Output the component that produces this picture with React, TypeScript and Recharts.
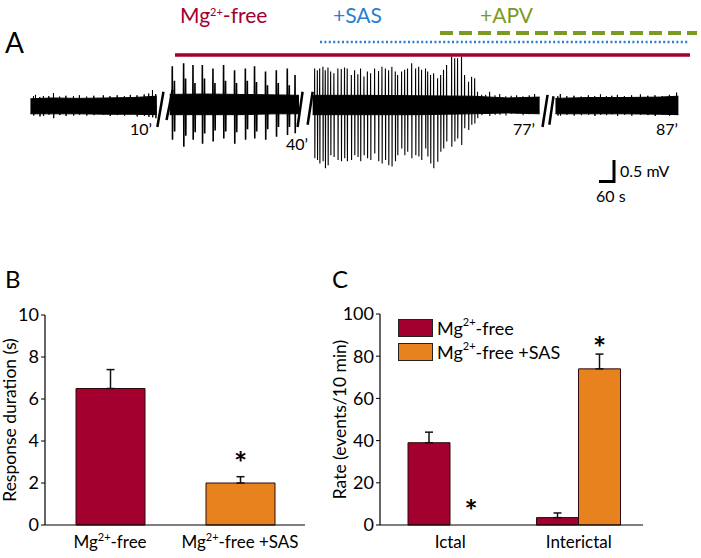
import React from 'react';
import {
  BarChart,
  Bar,
  Cell,
  XAxis,
  YAxis,
  ErrorBar,
  LabelList,
  Legend,
  ComposedChart,
  Line,
  Area,
  ReferenceLine,
} from 'recharts';

const FONT = 'Lato, "Open Sans", sans-serif';
const RED = '#a3002f';
const ORANGE = '#e8821e';
const BLUE = '#2a80cf';
const GREEN = '#7b9a22';
const EDGE = '#2a0a0a';

// ---------- panel A: field potential trace (time in min, voltage in mV) ----------
// spike events: [time, peak, trough]
const seg1Spikes = [
  [2.95, 0.2, -0.24], [3.06, 0.23, -0.2], [3.3, 0.18, -0.26], [3.5, 0.2, -0.25], [3.8, 0.2, -0.22],
  [4.06, 0.27, -0.3], [4.4, 0.19, -0.23], [4.75, 0.21, -0.25], [5.17, 0.2, -0.24], [5.5, 0.22, -0.22],
  [5.9, 0.19, -0.24], [6.3, 0.21, -0.23], [6.83, 0.22, -0.22], [7.2, 0.2, -0.25], [7.6, 0.22, -0.23],
  [8.0, 0.2, -0.24], [8.33, 0.23, -0.2], [8.7, 0.22, -0.26], [9.1, 0.24, -0.25], [9.35, 0.26, -0.27],
  [9.56, 0.34, -0.28], [9.74, 0.25, -0.3],
];
const seg2Spikes = [
  [32.76, 0.88, -0.79], [32.88, 0.55, -0.6],
  [33.39, 0.95, -0.95], [33.5, 0.6, -0.7],
  [33.91, 0.91, -0.79], [34.02, 0.5, -0.62],
  [34.43, 0.91, -0.88], [34.55, 0.6, -0.65],
  [35.02, 0.83, -0.83], [35.13, 0.5, -0.58],
  [35.61, 0.91, -0.76], [35.72, 0.55, -0.6],
  [36.22, 0.79, -0.88], [36.33, 0.5, -0.62],
  [36.82, 0.83, -0.79], [36.93, 0.55, -0.55],
  [37.33, 0.88, -0.76], [37.44, 0.52, -0.6],
  [37.94, 0.76, -0.79], [38.05, 0.45, -0.55],
  [38.54, 0.79, -0.72], [38.65, 0.5, -0.5],
  [39.15, 0.83, -0.68], [39.26, 0.45, -0.5],
  [39.58, 0.68, -0.64],
];
const seg3Spikes = [
  [64.28, 0.83, -1.21], [64.43, 0.79, -1.25], [64.56, 0.83, -1.33], [64.74, 0.87, -1.28],
  [64.87, 0.79, -1.44], [65.02, 0.85, -1.37], [65.17, 0.76, -1.14], [65.35, 0.72, -1.18],
  [65.57, 0.83, -1.25], [65.76, 0.82, -1.28], [65.94, 0.85, -1.21], [66.09, 0.83, -1.28],
  [66.32, 0.68, -1.25], [66.5, 0.79, -1.14], [66.68, 0.7, -1.18], [66.83, 0.83, -1.28],
  [67.02, 0.65, -1.14], [67.21, 0.76, -1.21], [67.39, 0.72, -1.25], [67.61, 0.83, -1.1],
  [67.83, 0.77, -1.28], [68.02, 0.87, -1.33], [68.21, 0.83, -1.25], [68.39, 0.79, -1.37],
  [68.57, 0.87, -1.4], [68.76, 0.76, -1.28],
  [68.89, 0.68, -1.14], [69.11, 0.76, -0.99], [69.28, 0.8, -1.14], [69.44, 0.83, -1.06],
  [69.67, 0.95, -1.21], [69.89, 0.83, -1.14], [70.06, 0.87, -1.17], [70.22, 0.8, -1.25],
  [70.44, 0.83, -0.99], [70.56, 0.76, -1.17], [70.72, 0.68, -1.33], [70.89, 0.72, -1.44],
  [71.11, 0.61, -1.29], [71.28, 0.68, -1.06], [71.44, 0.8, -0.99], [71.61, 0.91, -0.83],
  [71.89, 1.1, -0.95], [72.06, 1.06, -0.83], [72.22, 1.06, -0.76], [72.44, 1.1, -0.91],
  [72.61, 0.68, -0.53], [72.83, 0.53, -0.57], [73.0, 0.64, -0.45], [73.17, 0.61, -0.42],
  [73.33, 0.3, -0.3], [73.56, 0.23, -0.23], [73.78, 0.23, -0.19],
  [74.0, 0.3, -0.25], [74.3, 0.22, -0.22], [74.56, 0.25, -0.22], [74.9, 0.2, -0.24], [75.2, 0.21, -0.2],
  [75.5, 0.22, -0.2], [75.85, 0.2, -0.23], [76.2, 0.22, -0.21], [76.5, 0.25, -0.2],
];
const seg4Spikes = [
  [80.3, 0.2, -0.24], [80.44, 0.25, -0.24], [80.8, 0.2, -0.22], [81.2, 0.21, -0.24], [81.6, 0.19, -0.23],
  [82.0, 0.22, -0.22], [82.35, 0.2, -0.25], [82.67, 0.24, -0.22], [83.0, 0.2, -0.23], [83.3, 0.21, -0.21],
  [83.61, 0.23, -0.25], [84.0, 0.2, -0.22], [84.4, 0.22, -0.24], [84.89, 0.24, -0.22], [85.3, 0.21, -0.23],
  [85.7, 0.22, -0.25], [86.1, 0.2, -0.22], [86.5, 0.23, -0.24], [86.9, 0.28, -0.22],
];
// noise envelope: [time, low, high]
const seg1Band = [[2.78, -0.2, 0.14], [4, -0.2, 0.16], [5.5, -0.2, 0.15], [7, -0.21, 0.16], [8.5, -0.21, 0.17], [9.8, -0.22, 0.2]];
const seg2Band = [[32.62, -0.22, 0.24], [34.5, -0.22, 0.25], [36.5, -0.22, 0.24], [38.5, -0.2, 0.23], [39.8, -0.2, 0.22]];
const seg3Band = [[64.17, -0.22, 0.22], [67, -0.22, 0.22], [70, -0.22, 0.21], [73, -0.2, 0.2], [75, -0.18, 0.16], [76.78, -0.2, 0.18]];
const seg4Band = [[80.17, -0.2, 0.15], [82, -0.2, 0.17], [84, -0.2, 0.17], [86, -0.21, 0.18], [87.0, -0.22, 0.2]];
// break marks: [t0, v0, t1, v1]
const seg1Breaks = [[9.83, -0.5, 10.17, 0.3]];
const seg2Breaks = [[32.44, -0.34, 32.78, 0.34], [39.72, -0.5, 40.0, 0.3]];
const seg3Breaks = [[63.89, -0.45, 64.17, 0.3], [76.94, -0.5, 77.22, 0.23]];
const seg4Breaks = [[79.83, -0.45, 80.06, 0.2]];

// ---------- panel B ----------
const bCats = ['Mg2+-free', 'Mg2+-free +SAS'];
const bDuration = [6.5, 2.0];
const bErr = [0.9, 0.3];
const bStarAt = [null, 3.25];
const bColors = [RED, ORANGE];

// ---------- panel C ----------
const cCats = ['Ictal', 'Interictal'];
const cMg = [39, 3.5];
const cMgErr = [5, 2.2];
const cSas = [0, 74];
const cSasErr = [0, 7];
const cStarAt = [9.5, 86.5];

const A_TOP = 28;
const A_H = 154;
const PX_PER_MIN = 18;

function toTrace(spikes: number[][]) {
  return spikes.flatMap(([t, hi, lo]) => [
    { t: t - 0.01, v: 0 },
    { t, v: hi },
    { t: t + 0.012, v: lo },
    { t: t + 0.022, v: 0 },
  ]);
}

function Segment({ domain, left, band, spikes, breaks, lineW }: any) {
  const width = (domain[1] - domain[0]) * PX_PER_MIN;
  const bandData = band.map(([t, lo, hi]: number[]) => ({ t, band: [lo, hi] }));
  return (
    <div style={{ position: 'absolute', left, top: A_TOP }}>
      <ComposedChart width={width} height={A_H} margin={{ top: 0, right: 0, bottom: 0, left: 0 }}>
        <XAxis type="number" dataKey="t" domain={domain} hide allowDataOverflow />
        <YAxis type="number" domain={[-1.75, 1.75]} hide allowDataOverflow />
        <Area
          data={bandData}
          dataKey="band"
          type="linear"
          fill="#000"
          fillOpacity={1}
          stroke="#000"
          strokeWidth={1}
          dot={false}
          activeDot={false}
          isAnimationActive={false}
        />
        <Line
          data={toTrace(spikes)}
          dataKey="v"
          type="linear"
          stroke="#000"
          strokeWidth={lineW}
          dot={false}
          activeDot={false}
          isAnimationActive={false}
        />
        {breaks.map(([t0, v0, t1, v1]: number[], i: number) => (
          <ReferenceLine
            key={i}
            segment={[{ x: t0, y: v0 }, { x: t1, y: v1 }]}
            stroke="#000"
            strokeWidth={2.5}
            ifOverflow="visible"
          />
        ))}
      </ComposedChart>
    </div>
  );
}

function mgSvg(label: string) {
  const i = label.indexOf('2+');
  if (i < 0) return label;
  return (
    <>
      <tspan>{label.slice(0, i)}</tspan>
      <tspan dy={-7} fontSize={11}>2+</tspan>
      <tspan dy={7}>{label.slice(i + 2)}</tspan>
    </>
  );
}

function mgHtml(label: string) {
  const i = label.indexOf('2+');
  if (i < 0) return label;
  return (
    <>
      {label.slice(0, i)}
      <sup style={{ fontSize: 11, verticalAlign: 'top', lineHeight: 1, position: 'relative', top: -1 }}>2+</sup>
      {label.slice(i + 2)}
    </>
  );
}

const CatTick = ({ x, y, payload }: any) => (
  <text x={x} y={y + 23} textAnchor="middle" fontSize={17} fontFamily={FONT} fill="#000">
    {mgSvg(String(payload.value))}
  </text>
);

// significance star, placed at a data height above the bar base
const starLabel = (pxPerUnit: number) => (props: any) => {
  const { value } = props;
  if (value == null) return null;
  const vb = props.viewBox || props;
  const cx = vb.x + vb.width / 2;
  const base = vb.y + vb.height;
  const cy = base - value * pxPerUnit;
  return (
    <text x={cx} y={cy + 17} textAnchor="middle" fontSize={31} fontWeight="bold" fontFamily={FONT} fill="#000">
      *
    </text>
  );
};

const CLegend = ({ payload }: any) => (
  <div style={{ display: 'flex', flexDirection: 'column', gap: 6 }}>
    {(payload || []).map((e: any, i: number) => (
      <div key={i} style={{ display: 'flex', alignItems: 'center', height: 18 }}>
        <span
          style={{
            display: 'inline-block',
            width: 35,
            height: 18,
            boxSizing: 'border-box',
            background: e.color,
            border: '1.5px solid #222',
            marginRight: 4,
          }}
        />
        <span style={{ fontSize: 18, fontFamily: FONT, color: '#000', whiteSpace: 'nowrap' }}>{mgHtml(String(e.value))}</span>
      </div>
    ))}
  </div>
);

const tickStyle = { fill: '#000', fontSize: 18, fontFamily: FONT };
const axisStyle = { stroke: '#000', strokeWidth: 1.2 };
const yLabelStyle = { textAnchor: 'middle', fontSize: 17.5, fill: '#000', fontFamily: FONT };

export default function App() {
  const bData = bCats.map((c, i) => ({ cat: c, v: bDuration[i], err: [0, bErr[i]], star: bStarAt[i] }));
  const cData = cCats.map((c, i) => ({
    cat: c,
    mg: cMg[i],
    mgErr: [0, cMgErr[i]],
    sas: cSas[i],
    sasErr: cSasErr[i] > 0 ? [0, cSasErr[i]] : null,
    star: cStarAt[i],
  }));

  const segs = [
    { domain: [2.7, 10.4], left: 28.6, band: seg1Band, spikes: seg1Spikes, breaks: seg1Breaks, lineW: 1 },
    { domain: [32.3, 40.35], left: 164.4, band: seg2Band, spikes: seg2Spikes, breaks: seg2Breaks, lineW: 1.6 },
    { domain: [63.8, 77.4], left: 306.4, band: seg3Band, spikes: seg3Spikes, breaks: seg3Breaks, lineW: 1.1 },
    { domain: [79.7, 87.3], left: 546.6, band: seg4Band, spikes: seg4Spikes, breaks: seg4Breaks, lineW: 1 },
  ];

  return (
    <div style={{ position: 'absolute', left: 0, top: 0, width: 701, height: 558, background: '#fff', fontFamily: FONT, overflow: 'hidden' }}>
      {/* panel A */}
      {segs.map((s, i) => (
        <Segment key={i} {...s} />
      ))}
      <svg width={701} height={210} style={{ position: 'absolute', left: 0, top: 0 }} fontFamily={FONT}>
        <text x={5} y={53} fontSize={28}>A</text>
        <text x={180} y={23} fontSize={21} fill={RED}>{mgSvg('Mg2+-free')}</text>
        <text x={333} y={23} fontSize={21} fill={BLUE}>+SAS</text>
        <text x={480} y={23} fontSize={21} fill={GREEN}>+APV</text>
        <line x1={440} x2={697} y1={33} y2={33} stroke={GREEN} strokeWidth={4} strokeDasharray="13 6" />
        <line x1={320} x2={689} y1={42} y2={42} stroke={BLUE} strokeWidth={2.5} strokeDasharray="2 2.4" />
        <line x1={175} x2={690} y1={55} y2={55} stroke={RED} strokeWidth={3.5} />
        <text x={152} y={135} fontSize={16} textAnchor="end">10’</text>
        <text x={308} y={150} fontSize={16} textAnchor="end">40’</text>
        <text x={535} y={135} fontSize={16} textAnchor="end">77’</text>
        <text x={678} y={135} fontSize={16} textAnchor="end">87’</text>
        <path d="M614 160 V181.5 H599" fill="none" stroke="#000" strokeWidth={3} />
        <text x={620} y={177} fontSize={16}>0.5 mV</text>
        <text x={596} y={202} fontSize={16}>60 s</text>
      </svg>

      {/* panel B */}
      <div style={{ position: 'absolute', left: 5, top: 267, fontSize: 24, lineHeight: '24px' }}>B</div>
      <div style={{ position: 'absolute', left: 0, top: 300 }}>
        <BarChart width={320} height={258} data={bData} margin={{ top: 15, right: 15, left: 0, bottom: 0 }}>
          <XAxis dataKey="cat" tick={<CatTick />} tickLine={false} tickSize={0} tickMargin={0} height={33} axisLine={axisStyle} interval={0} />
          <YAxis
            domain={[0, 10]}
            ticks={[0, 2, 4, 6, 8, 10]}
            width={45}
            tickSize={4}
            tickMargin={2}
            tick={tickStyle}
            axisLine={axisStyle}
            tickLine={{ stroke: '#000' }}
            label={{ value: 'Response duration (s)', angle: -90, position: 'insideLeft', offset: 10, style: yLabelStyle }}
          />
          <Bar dataKey="v" barSize={69} stroke={EDGE} strokeWidth={1} isAnimationActive={false}>
            {bData.map((d, i) => (
              <Cell key={i} fill={bColors[i]} />
            ))}
            <ErrorBar dataKey="err" width={4} stroke="#111" strokeWidth={1.5} direction="y" />
            <LabelList dataKey="star" content={starLabel(21)} />
          </Bar>
        </BarChart>
      </div>

      {/* panel C */}
      <div style={{ position: 'absolute', left: 332, top: 267, fontSize: 24, lineHeight: '24px' }}>C</div>
      <div style={{ position: 'absolute', left: 330, top: 300 }}>
        <BarChart width={328} height={258} data={cData} margin={{ top: 14, right: 15, left: 0, bottom: 0 }} barGap={0}>
          <XAxis dataKey="cat" tick={<CatTick />} tickLine={false} tickSize={0} tickMargin={0} height={33} axisLine={axisStyle} interval={0} padding={{ left: 6, right: 0 }} />
          <YAxis
            domain={[0, 100]}
            ticks={[0, 20, 40, 60, 80, 100]}
            width={50}
            tickSize={4}
            tickMargin={2}
            tick={tickStyle}
            axisLine={axisStyle}
            tickLine={{ stroke: '#000' }}
            label={{ value: 'Rate (events/10 min)', angle: -90, position: 'insideLeft', offset: 10, style: yLabelStyle }}
          />
          <Legend
            layout="vertical"
            align="center"
            verticalAlign="middle"
            content={<CLegend />}
            wrapperStyle={{ left: 68, top: 19, width: 'auto', height: 'auto' }}
          />
          <Bar dataKey="mg" name="Mg2+-free" fill={RED} stroke={EDGE} strokeWidth={1} barSize={42} isAnimationActive={false}>
            <ErrorBar dataKey="mgErr" width={4} stroke="#111" strokeWidth={1.5} direction="y" />
          </Bar>
          <Bar dataKey="sas" name="Mg2+-free +SAS" fill={ORANGE} stroke={EDGE} strokeWidth={1} barSize={42} minPointSize={1} isAnimationActive={false}>
            {cData.map((d, i) => (
              <Cell key={i} fill={d.sas > 0 ? ORANGE : 'none'} stroke={d.sas > 0 ? EDGE : 'none'} />
            ))}
            <ErrorBar dataKey="sasErr" width={4} stroke="#111" strokeWidth={1.5} direction="y" />
            <LabelList dataKey="star" content={starLabel(2.11)} />
          </Bar>
        </BarChart>
      </div>
    </div>
  );
}
